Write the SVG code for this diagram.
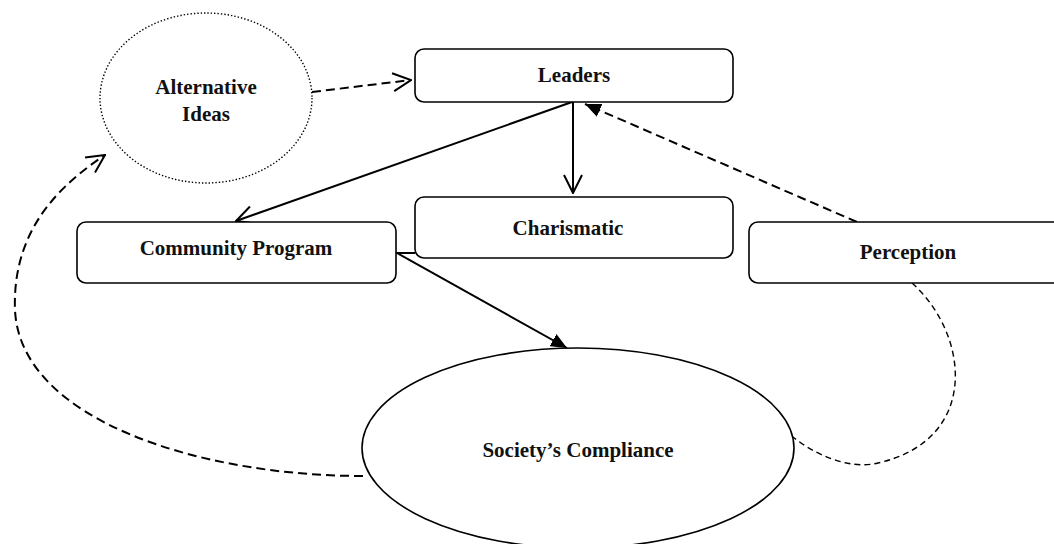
<svg xmlns="http://www.w3.org/2000/svg" width="1054" height="544" viewBox="0 0 1054 544">
<style>
.box{fill:#fff;stroke:#000;stroke-width:1.6}
.lbl{font-family:"Liberation Serif","Times New Roman",serif;font-weight:bold;font-size:21px;fill:#111;text-anchor:middle}
.solid{fill:none;stroke:#000;stroke-width:2}
.dash{fill:none;stroke:#000;stroke-width:2;stroke-dasharray:9,5}
.dash2{fill:none;stroke:#000;stroke-width:1.4;stroke-dasharray:6,4}
</style>
<defs>
<marker id="open" viewBox="0 0 20 20" refX="19" refY="10" markerWidth="20" markerHeight="20" markerUnits="userSpaceOnUse" orient="auto">
<path d="M1,1 L19,10 L1,19" fill="none" stroke="#000" stroke-width="2" stroke-dasharray="none"/>
</marker>
<marker id="filled" viewBox="0 0 16 14" refX="16" refY="7" markerWidth="16" markerHeight="14" markerUnits="userSpaceOnUse" orient="auto">
<path d="M0,0 L16,7 L0,14 Z" fill="#000" stroke="none"/>
</marker>
</defs>
<rect width="1054" height="544" fill="#fff"/>
<g id="connectors">
<path class="dash" d="M312,92 L411,80" marker-end="url(#open)"/>
<path class="solid" d="M572,102 L236,221" marker-end="url(#open)"/>
<path class="solid" d="M573,102 L573,193" marker-end="url(#open)"/>
<path class="dash" d="M857,222 L585,104" marker-end="url(#filled)"/>
<path class="solid" d="M396,253 L415,253"/>
<path class="solid" d="M397,253 L567,348" marker-end="url(#filled)"/>
<path class="dash" d="M363,476 C200,476 20,420 15,310 C12,230 60,185 105,155" marker-end="url(#open)"/>
<path class="dash2" d="M912,283 C970,335 980,440 878,463 C850,470 815,455 793,437"/>
</g>
<g id="alternative-ideas">
<ellipse cx="206" cy="98" rx="106" ry="85" fill="none" stroke="#000" stroke-width="1.4" stroke-dasharray="1.4,2"/>
<text class="lbl" x="206" y="94">Alternative</text>
<text class="lbl" x="206" y="121">Ideas</text>
</g>
<g id="leaders">
<rect class="box" x="415" y="49" width="318" height="53" rx="9"/>
<text class="lbl" x="574" y="82">Leaders</text>
</g>
<g id="charismatic">
<rect class="box" x="415" y="197" width="318" height="61" rx="9"/>
<text class="lbl" x="568" y="235">Charismatic</text>
</g>
<g id="community-program">
<rect class="box" x="77" y="222" width="319" height="61" rx="9"/>
<text class="lbl" x="236" y="255">Community Program</text>
</g>
<g id="perception">
<rect class="box" x="749" y="222" width="320" height="61" rx="9"/>
<text class="lbl" x="908" y="259">Perception</text>
</g>
<g id="societys-compliance">
<ellipse cx="578" cy="448" rx="216" ry="100" fill="#fff" stroke="#000" stroke-width="1.6"/>
<text class="lbl" x="578" y="457">Society’s Compliance</text>
</g>
</svg>
